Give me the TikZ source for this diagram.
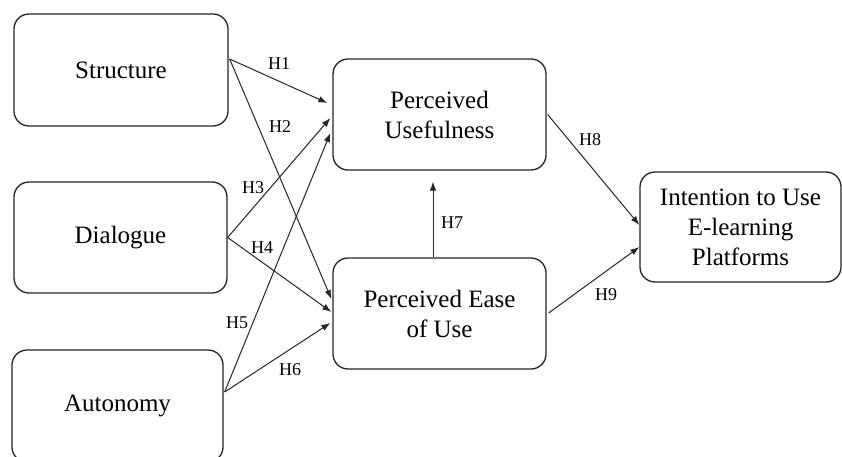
\documentclass[tikz,border=0pt]{standalone}
\usepackage{fontspec}
\setmainfont{Liberation Serif}
\usetikzlibrary{arrows.meta}
\tikzset{
  box/.style={draw=black!85, line width=1.3pt, rounded corners=15pt, align=center,
    font=\fontsize{25}{30}\selectfont, inner sep=0pt},
  conn/.style={draw=black!85, line width=1pt, -{Latex[length=9pt,width=6.5pt]}},
  lab/.style={font=\fontsize{18}{20}\selectfont, inner sep=0pt}
}
\begin{document}
\begin{tikzpicture}[x=1pt,y=-1pt]
\useasboundingbox (0,0) rectangle (842,457);
\fill[white] (0,0) rectangle (842,457);
% boxes
\node[box, minimum width=214pt, minimum height=112pt] (S) at (121,70) {Structure};
\node[box, minimum width=213pt, minimum height=111pt] (D) at (120.5,237.5) {Dialogue};
\node[box, minimum width=211pt, minimum height=112pt] (A) at (117.5,406) {Autonomy};
\node[box, minimum width=213pt, minimum height=111pt] (PU) at (439.5,114.5) {Perceived\\Usefulness};
\node[box, minimum width=213pt, minimum height=111pt] (PEU) at (439.5,313.5) {Perceived Ease\\of Use};
\node[box, minimum width=201pt, minimum height=110pt] (I) at (740.5,227) {Intention to Use\\E-learning\\Platforms};
% connectors
\draw[conn] ([xshift=1pt,yshift=11pt]S.east) -- ([xshift=-5pt,yshift=11.5pt]PU.west);
\draw[conn] ([xshift=1pt,yshift=11pt]S.east) -- ([xshift=-1pt,yshift=14.5pt]PEU.west);
\draw[conn] (D.east) -- ([xshift=-2pt,yshift=-3.5pt]PU.west);
\draw[conn] (D.east) -- ([xshift=-1pt,yshift=1.5pt]PEU.west);
\draw[conn] ([xshift=1pt,yshift=14pt]A.east) -- ([xshift=-2pt,yshift=-18.5pt]PU.west);
\draw[conn] ([xshift=1pt,yshift=14pt]A.east) -- ([xshift=-2pt,yshift=-9.5pt]PEU.west);
\draw[conn] ([xshift=-6.5pt]PEU.north) -- ([xshift=-6.5pt,yshift=-11pt]PU.south);
\draw[conn] ([xshift=1pt]PU.east) -- ([yshift=2pt]I.west);
\draw[conn] ([xshift=2pt,yshift=0.5pt]PEU.east) -- ([yshift=-20pt]I.west);
% labels
\node[lab] (h1) at (279,64) {H1};
\node[lab] (h2) at (280,127) {H2};
\node[lab] (h3) at (253,188) {H3};
\node[lab] (h4) at (262,248) {H4};
\node[lab] (h5) at (237,323) {H5};
\node[lab] (h6) at (290,370) {H6};
\node[lab] (h7) at (452,223) {H7};
\node[lab] (h8) at (590,140) {H8};
\node[lab] (h9) at (606,295) {H9};
\end{tikzpicture}
\end{document}
